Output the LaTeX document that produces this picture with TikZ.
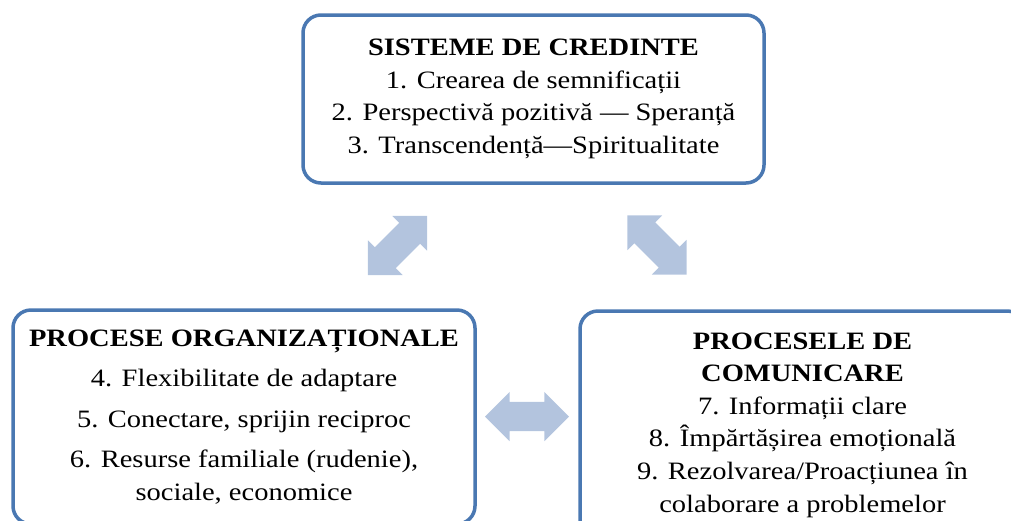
\documentclass[tikz,border=0pt]{standalone}
\usepackage{fontspec}
\setmainfont{Liberation Serif}[FakeStretch=1.14]
\usepackage{tikz}
\usetikzlibrary{shapes.arrows}
\definecolor{edge}{RGB}{74,120,178}
\definecolor{pale}{RGB}{179,196,222}

\begin{document}
\begin{tikzpicture}[x=1pt, y=-1pt, every node/.style={font=\fontsize{25}{32.6}\selectfont}, box/.style={draw=edge, line width=3.5pt, rounded corners=18pt, align=center, inner sep=0pt}, twoway/.style={double arrow, fill=pale, minimum height=84pt, minimum width=49pt, inner sep=14.5pt, double arrow head extend=10pt}]
\useasboundingbox (0,0) rectangle (1011,520);
\node[box, minimum width=461pt, minimum height=168pt] (cred) at (533.5,99) {\textbf{SISTEME DE CREDINTE}\\1. Crearea de semnificații\\2. Perspectivă pozitivă — Speranță\\3. Transcendență—Spiritualitate};
\node[box, minimum width=462pt, minimum height=214pt] (org) at (244,417) {\textbf{PROCESE ORGANIZAȚIONALE}\\[8pt]4. Flexibilitate de adaptare\\[8pt]5. Conectare, sprijin reciproc\\[8pt]6. Resurse familiale (rudenie),\\sociale, economice};
\node[box, minimum width=445pt, minimum height=228pt] (com) at (802.5,425) {\textbf{PROCESELE DE}\\\textbf{COMUNICARE}\\7. Informații clare\\8. Împărtășirea emoțională\\9. Rezolvarea/Proacțiunea în\\colaborare a problemelor};
\node[twoway, rotate=45] (co) at (397.5,245.5) {};
\node[twoway, rotate=-45] (cc) at (657,245) {};
\node[twoway] (oc) at (527,416.5) {};
\end{tikzpicture}
\end{document}
